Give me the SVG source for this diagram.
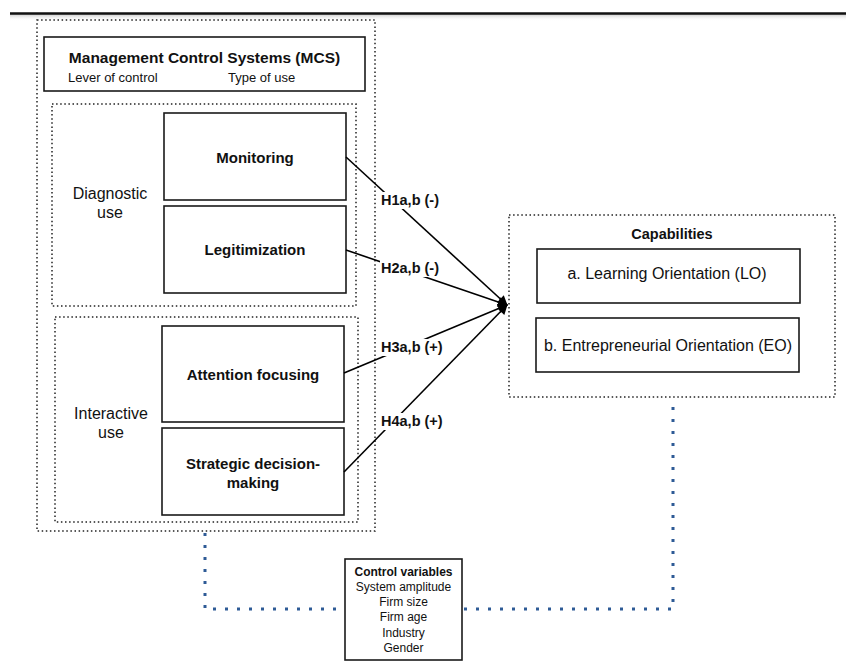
<svg xmlns="http://www.w3.org/2000/svg" width="846" height="671" viewBox="0 0 846 671">
  <defs>
    <linearGradient id="rule-shadow" x1="0" y1="0" x2="0" y2="1">
      <stop offset="0" stop-color="#b8b8b8" stop-opacity="0.8"/>
      <stop offset="1" stop-color="#ffffff" stop-opacity="0"/>
    </linearGradient>
    <marker id="arrow" viewBox="0 0 10 10" refX="9" refY="5" markerWidth="11" markerHeight="10" markerUnits="userSpaceOnUse" orient="auto">
      <path d="M0,0 L10,5 L0,10 z" fill="#000"/>
    </marker>
    <style>
      text { font-family: "Liberation Sans", Arial, sans-serif; fill: #111; }
      .box { fill: #fff; stroke: #1a1a1a; stroke-width: 1.6; }
      .group { fill: none; stroke: #222; stroke-width: 1.5; stroke-dasharray: 1.5 2.6; }
      .node-label { font-size: 15px; font-weight: bold; text-anchor: middle; }
      .side-label { font-size: 16px; text-anchor: middle; }
      .cap-label { font-size: 16px; text-anchor: middle; }
      .hyp { font-size: 14.5px; font-weight: bold; }
      .hyp-bg { fill: #fff; }
      .edge { stroke: #000; stroke-width: 1.6; fill: none; marker-end: url(#arrow); }
      .control-link { fill: none; stroke: #2e5b96; stroke-width: 3; stroke-dasharray: 3 9; }
      .cv { font-size: 12px; text-anchor: middle; }
    </style>
  </defs>

  <rect width="846" height="671" fill="#fff"/>

  <!-- page rule -->
  <rect x="10" y="14" width="836" height="7" fill="url(#rule-shadow)"/>
  <line x1="10" y1="13.5" x2="846" y2="13.5" stroke="#111" stroke-width="2.5"/>

  <!-- MCS frame -->
  <g id="mcs-frame">
    <rect class="group" x="37" y="20" width="338" height="511"/>
    <rect class="box" x="44" y="37" width="321" height="54"/>
    <text x="204.5" y="63" style="font-size:15.5px;font-weight:bold;text-anchor:middle">Management Control Systems (MCS)</text>
    <text x="68" y="81.5" style="font-size:13px">Lever of control</text>
    <text x="228" y="81.5" style="font-size:13px">Type of use</text>
  </g>

  <!-- diagnostic use group -->
  <g id="diagnostic">
    <rect class="group" x="52" y="104" width="304" height="202"/>
    <text class="side-label" x="110" y="199">Diagnostic</text>
    <text class="side-label" x="110" y="218">use</text>
  </g>

  <!-- interactive use group -->
  <g id="interactive">
    <rect class="group" x="55" y="317" width="303" height="205"/>
    <text class="side-label" x="111" y="419">Interactive</text>
    <text class="side-label" x="111" y="438">use</text>
  </g>

  <g id="monitoring">
    <rect class="box" x="164" y="113" width="182" height="87"/>
    <text class="node-label" x="255" y="163">Monitoring</text>
  </g>

  <g id="legitimization">
    <rect class="box" x="164" y="206" width="182" height="87"/>
    <text class="node-label" x="255" y="255">Legitimization</text>
  </g>

  <g id="attention-focusing">
    <rect class="box" x="162" y="326" width="182" height="96"/>
    <text class="node-label" x="253" y="380">Attention focusing</text>
  </g>

  <g id="strategic-decision-making">
    <rect class="box" x="162" y="428" width="182" height="87"/>
    <text class="node-label" x="253" y="469">Strategic decision-</text>
    <text class="node-label" x="253" y="488">making</text>
  </g>

  <!-- capabilities -->
  <g id="capabilities">
    <rect class="group" x="509" y="215" width="326" height="182"/>
    <text x="672" y="239" style="font-size:14.5px;font-weight:bold;text-anchor:middle">Capabilities</text>
  </g>

  <g id="learning-orientation">
    <rect class="box" x="537" y="249" width="263" height="54"/>
    <text class="cap-label" x="667" y="279">a. Learning Orientation (LO)</text>
  </g>

  <g id="entrepreneurial-orientation">
    <rect class="box" x="536" y="318" width="263" height="54"/>
    <text class="cap-label" x="668" y="351">b. Entrepreneurial Orientation (EO)</text>
  </g>

  <!-- control variables -->
  <g id="control-variables">
    <rect class="box" x="345" y="559" width="117" height="101" stroke-width="1.4"/>
    <text class="cv" x="403.5" y="576" style="font-weight:bold">Control variables</text>
    <text class="cv" x="403.5" y="591">System amplitude</text>
    <text class="cv" x="403.5" y="606">Firm size</text>
    <text class="cv" x="403.5" y="621">Firm age</text>
    <text class="cv" x="403.5" y="637">Industry</text>
    <text class="cv" x="403.5" y="652">Gender</text>
  </g>

  <!-- connectors -->
  <g id="connectors">
    <line class="edge" x1="346" y1="157" x2="507" y2="305"/>
    <line class="edge" x1="346" y1="250" x2="507" y2="305"/>
    <line class="edge" x1="344" y1="373" x2="507" y2="305"/>
    <line class="edge" x1="344" y1="472" x2="507" y2="305"/>

    <rect class="hyp-bg" x="380" y="192" width="62" height="17"/>
    <text class="hyp" x="381" y="205">H1a,b (-)</text>
    <rect class="hyp-bg" x="380" y="260" width="62" height="17"/>
    <text class="hyp" x="381" y="273">H2a,b (-)</text>
    <rect class="hyp-bg" x="380" y="339" width="66" height="17"/>
    <text class="hyp" x="381" y="352">H3a,b (+)</text>
    <rect class="hyp-bg" x="380" y="413" width="66" height="17"/>
    <text class="hyp" x="381" y="426">H4a,b (+)</text>

    <polyline class="control-link" points="205,533 205,609 344,609"/>
    <polyline class="control-link" points="464,609 673,609 673,399"/>
  </g>
</svg>
